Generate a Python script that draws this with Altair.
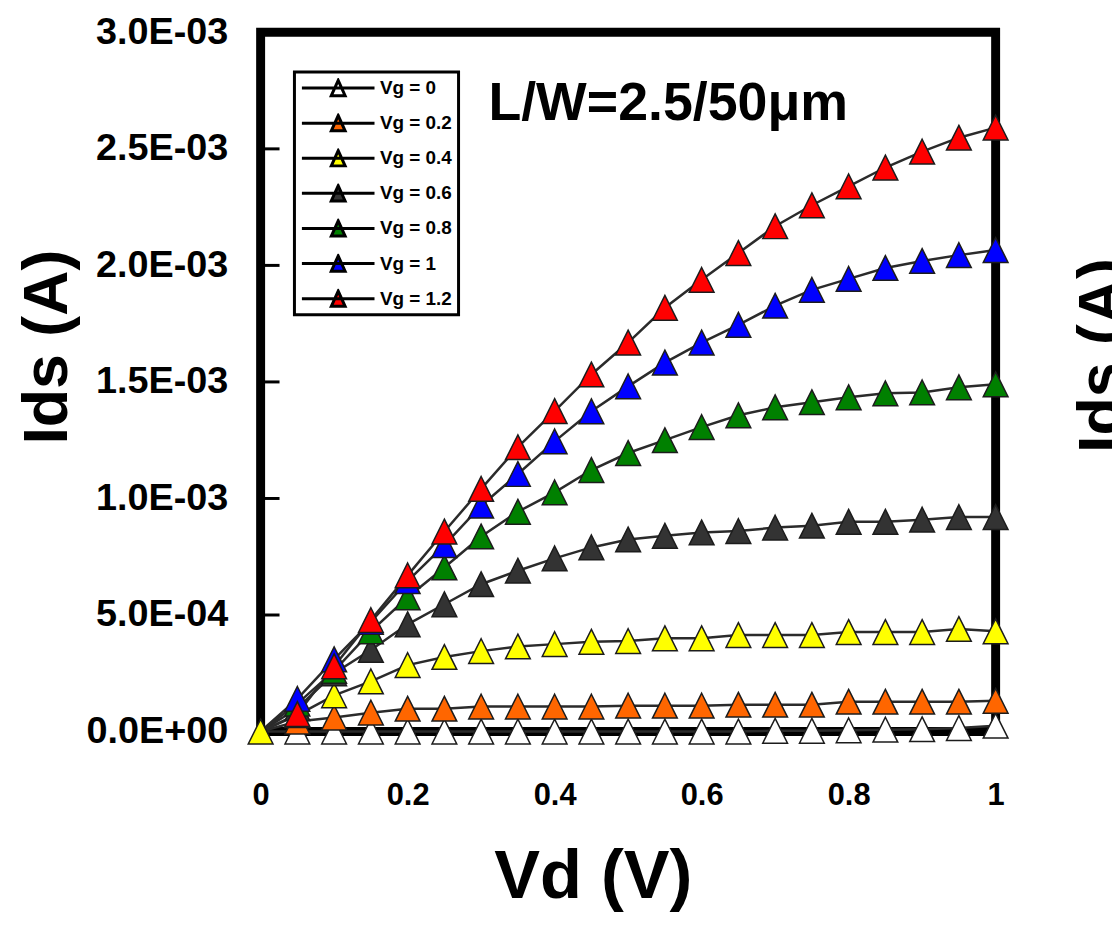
import json
import altair as alt
import pandas as pd

FONT = "Liberation Sans"

# ---- data ----
vd = [0.0, 0.05, 0.1, 0.15, 0.2, 0.25, 0.3, 0.35, 0.4, 0.45, 0.5,
      0.55, 0.6, 0.65, 0.7, 0.75, 0.8, 0.85, 0.9, 0.95, 1.0]

series_labels = ["Vg = 0", "Vg = 0.2", "Vg = 0.4", "Vg = 0.6", "Vg = 0.8", "Vg = 1", "Vg = 1.2"]

ids_vg0 = [0, 0, 0, 0, 0, 0, 0, 0, 0, 0, 0, 0, 0, 0,
           3e-6, 3e-6, 5e-6, 8e-6, 1e-5, 1.5e-5, 2.5e-5]
ids_vg02 = [0, 4.3e-5, 6.0e-5, 8.1e-5, 9.8e-5, 9.8e-5, 1.07e-4, 1.07e-4, 1.07e-4, 1.07e-4, 1.11e-4,
            1.11e-4, 1.11e-4, 1.15e-4, 1.15e-4, 1.15e-4, 1.28e-4, 1.28e-4, 1.28e-4, 1.28e-4, 1.32e-4]
ids_vg04 = [0, 7e-5, 1.55e-4, 2.15e-4, 2.85e-4, 3.2e-4, 3.45e-4, 3.65e-4, 3.75e-4, 3.85e-4, 3.88e-4,
            4.0e-4, 4.0e-4, 4.14e-4, 4.14e-4, 4.14e-4, 4.27e-4, 4.27e-4, 4.27e-4, 4.4e-4, 4.3e-4]
ids_vg06 = [0, 1.0e-4, 2.5e-4, 3.5e-4, 4.6e-4, 5.46e-4, 6.32e-4, 6.9e-4, 7.43e-4, 7.9e-4, 8.24e-4,
            8.4e-4, 8.54e-4, 8.6e-4, 8.75e-4, 8.83e-4, 9.0e-4, 9.0e-4, 9.09e-4, 9.2e-4, 9.2e-4]
ids_vg08 = [0, 1.2e-4, 2.6e-4, 4.3e-4, 5.76e-4, 7.04e-4, 8.37e-4, 9.43e-4, 1.026e-3, 1.122e-3, 1.195e-3,
            1.25e-3, 1.306e-3, 1.357e-3, 1.391e-3, 1.413e-3, 1.434e-3, 1.451e-3, 1.455e-3, 1.477e-3, 1.49e-3]
ids_vg10 = [0, 1.4e-4, 3.1e-4, 4.7e-4, 6.45e-4, 8.0e-4, 9.69e-4, 1.105e-3, 1.245e-3, 1.374e-3, 1.481e-3,
            1.583e-3, 1.669e-3, 1.745e-3, 1.827e-3, 1.895e-3, 1.942e-3, 1.989e-3, 2.019e-3, 2.044e-3, 2.066e-3]
ids_vg12 = [0, 7.5e-5, 2.8e-4, 4.78e-4, 6.7e-4, 8.58e-4, 1.041e-3, 1.22e-3, 1.375e-3, 1.532e-3, 1.669e-3,
            1.818e-3, 1.938e-3, 2.053e-3, 2.168e-3, 2.258e-3, 2.339e-3, 2.42e-3, 2.488e-3, 2.548e-3, 2.591e-3]

fill_colors = ["#FFFFFF", "#FF6600", "#FFFF00", "#333333", "#008000", "#0000FF", "#FF0000"]

y_tick_values = [0.0, 0.0005, 0.001, 0.0015, 0.002, 0.0025, 0.003]
y_tick_labels = ["0.0E+00", "5.0E-04", "1.0E-03", "1.5E-03", "2.0E-03", "2.5E-03", "3.0E-03"]
inner_tick_values = [0.0005, 0.001, 0.0015, 0.002, 0.0025]
x_tick_values = [0.0, 0.2, 0.4, 0.6, 0.8, 1.0]
x_tick_labels = ["0", "0.2", "0.4", "0.6", "0.8", "1"]

annotation = "L/W=2.5/50\u03bcm"
x_title = "Vd (V)"
y_title = "Ids (A)"

# ---- tables ----
all_ids = [ids_vg0, ids_vg02, ids_vg04, ids_vg06, ids_vg08, ids_vg10, ids_vg12]
rows = []
for lab, vals in zip(series_labels, all_ids):
    for v, i in zip(vd, vals):
        rows.append({"series": lab, "Vd": v, "Ids": i})
df = pd.DataFrame(rows)

TRI = "M0,-1L1,1L-1,1Z"
LEG = "M-1,0L1,0M-0.19,0.21L0,-0.21L0.19,0.21Z"

x_scale = alt.Scale(domain=[0, 1], nice=False, zero=False)
y_scale = alt.Scale(domain=[0, 0.003], nice=False)

y_label_expr = json.dumps(y_tick_labels) + "[round(datum.value / 0.0005)]"
x_label_expr = json.dumps(x_tick_labels) + "[round(datum.value * 5)]"

x_axis = alt.Axis(
    values=x_tick_values, labelExpr=x_label_expr, ticks=False, domain=False, grid=False,
    labelFont=FONT, labelFontSize=31, labelFontWeight="bold", labelColor="black",
    labelPadding=49, labelFlush=False,
    title=x_title, titleFont=FONT, titleFontSize=69, titleFontWeight="bold", titleColor="black",
    titleX=334, titleY=167, titleBaseline="alphabetic", titleAlign="center")
y_axis = alt.Axis(
    values=y_tick_values, labelExpr=y_label_expr, ticks=False, domain=False, grid=False,
    labelFont=FONT, labelFontSize=38, labelFontWeight="bold", labelColor="black",
    labelPadding=33, labelFlush=False, labelBaseline="middle",
    title=y_title, titleFont=FONT, titleFontSize=63, titleFontWeight="bold", titleColor="black",
    titleAngle=270, titleBaseline="alphabetic", titleAlign="center", titleX=-195, titleY=316)

x_enc = alt.X("Vd:Q", scale=x_scale, axis=x_axis)
y_enc = alt.Y("Ids:Q", scale=y_scale, axis=y_axis)

lines = alt.Chart(df).mark_line(color="#2b2b2b", strokeWidth=2.5).encode(
    x=x_enc, y=y_enc, detail="series:N", order="Vd:Q")

points = alt.Chart(df).transform_filter(
    "datum.Vd > 0 || datum.series == 'Vg = 0.4'"
).mark_point(filled=True, shape=TRI, size=620, stroke="#1c1c1c", strokeWidth=1.5, opacity=1).encode(
    x=x_enc,
    y=y_enc,
    fill=alt.Fill("series:N", scale=alt.Scale(domain=series_labels, range=fill_colors),
                  legend=alt.Legend(title=None, orient="none", legendX=34, legendY=40,
                                    symbolType=LEG, symbolSize=5329,
                                    symbolStrokeColor="black", symbolStrokeWidth=3,
                                    labelFont=FONT, labelFontSize=19, labelFontWeight="bold",
                                    labelColor="black", labelOffset=4, labelLimit=300,
                                    clipHeight=20, rowPadding=15.3, padding=6,
                                    strokeColor="black", fillColor="white")),
)

tick_df = pd.DataFrame({"Ids": inner_tick_values})
inner_ticks = alt.Chart(tick_df).mark_rule(color="black", strokeWidth=3).encode(
    y=y_enc, x=alt.value(0), x2=alt.value(19))

ann = alt.Chart(pd.DataFrame({"t": [annotation]})).mark_text(
    font=FONT, fontSize=54, fontWeight="bold", color="black", align="left", baseline="alphabetic"
).encode(text="t:N", x=alt.value(229), y=alt.value(88))

side = alt.Chart(pd.DataFrame({"t": [y_title]})).mark_text(
    font=FONT, fontSize=63, fontWeight="bold", color="black", align="center",
    baseline="alphabetic", angle=270
).encode(text="t:N", x=alt.value(866), y=alt.value(325))

chart = alt.layer(lines, inner_ticks, points, ann, side).properties(
    width=739, height=703,
    autosize=alt.AutoSizeParams(type="none"),
    padding={"left": 254, "top": 22, "right": 117, "bottom": 182},
).configure(
    font=FONT, background="white",
    view=alt.ViewConfig(stroke="black", strokeWidth=9),
    legend=alt.LegendConfig(strokeWidth=3),
)

chart.save("out.html", embed_options={"renderer": "svg", "actions": False})
